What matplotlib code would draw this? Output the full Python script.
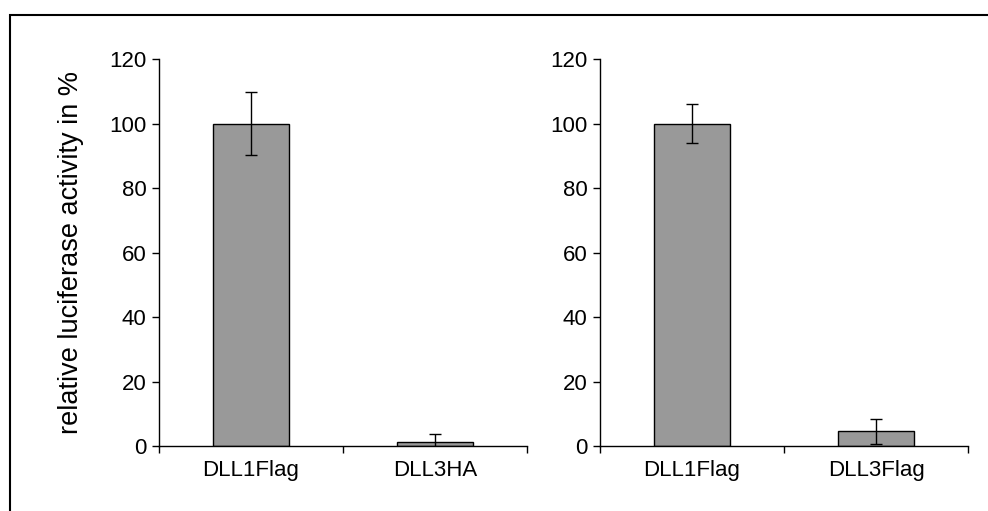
import matplotlib.pyplot as plt
from matplotlib.patches import Rectangle

plt.rcParams['font.family'] = ['Liberation Sans', 'DejaVu Sans']
plt.rcParams['font.size'] = 16

# data
labels_left = ['DLL1Flag', 'DLL3HA']
values_left = [100, 1.3]
errors_left = [9.7, 2.3]

labels_right = ['DLL1Flag', 'DLL3Flag']
values_right = [100, 4.5]
errors_right = [6.0, 4.0]

fig = plt.figure(figsize=(9.88, 5.11), dpi=100)

# outer frame (cut off on right and bottom like the original)
fig.patches.append(Rectangle((0.0101, -0.05), 1.1, 0.9706 + 0.05, transform=fig.transFigure,
                             fill=False, edgecolor='black', linewidth=1.5))

ax1 = fig.add_axes([0.1609, 0.1272, 0.3725, 0.7573])
ax2 = fig.add_axes([0.6073, 0.1272, 0.3725, 0.7573])

for ax, labels, values, errors in [(ax1, labels_left, values_left, errors_left),
                                   (ax2, labels_right, values_right, errors_right)]:
    pos = [0.5, 1.5]
    ax.bar(pos, values, width=0.41, color='#999999', edgecolor='black', linewidth=1.0,
           yerr=errors, capsize=4, error_kw=dict(elinewidth=1.0, capthick=1.0, ecolor='black'))
    ax.set_xlim(0, 2)
    ax.set_ylim(0, 120)
    ax.set_yticks([0, 20, 40, 60, 80, 100, 120])
    ax.set_xticks([0, 1, 2])
    ax.set_xticklabels([])
    ax.set_xticks(pos, minor=True)
    ax.set_xticklabels(labels, minor=True)
    ax.tick_params(axis='x', which='minor', length=0, pad=10)
    ax.tick_params(axis='x', which='major', direction='out', length=5, width=1)
    ax.tick_params(axis='y', direction='out', length=5, width=1, pad=4)
    ax.spines['top'].set_visible(False)
    ax.spines['right'].set_visible(False)
    for s in ['left', 'bottom']:
        ax.spines[s].set_linewidth(1.0)

ax1.set_ylabel('relative luciferase activity in %', fontsize=19.5, labelpad=18)

plt.savefig('out.png', dpi=100)
